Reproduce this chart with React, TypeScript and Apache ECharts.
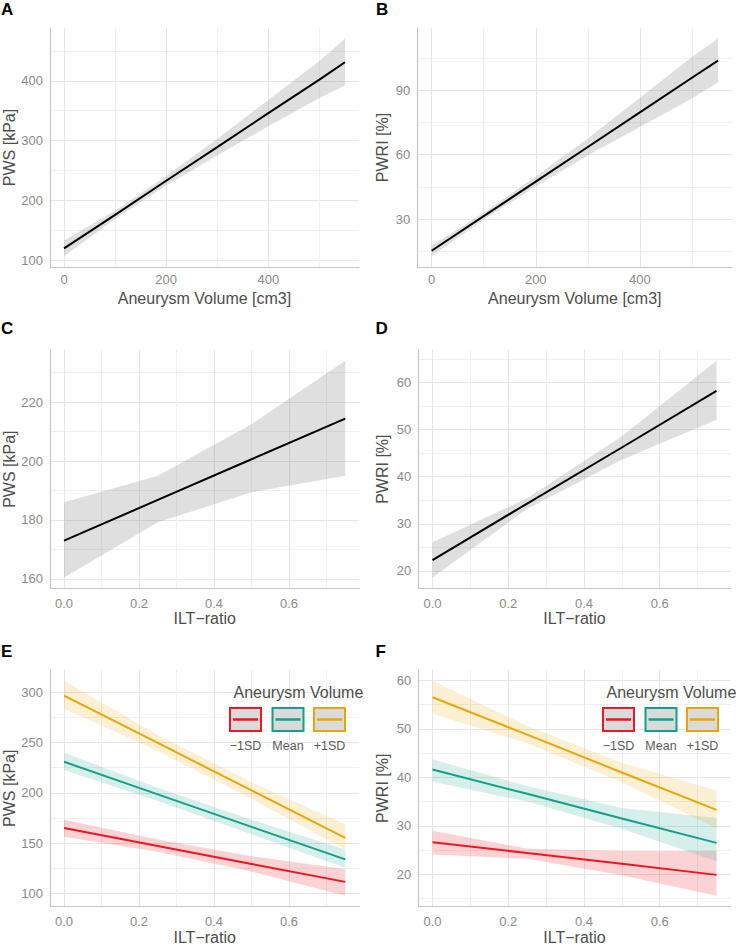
import React, { useEffect, useRef } from "react";
import * as echarts from "echarts";

// ---------- data ----------
const volumeX = [0, 100, 200, 300, 400, 500, 550];
const pwsVolFit = [120, 176, 233, 289, 346, 402, 431];
const pwsVolUpper = [133, 183, 241, 303, 368, 433, 470];
const pwsVolLower = [107, 169, 225, 275, 324, 371, 392];

const pwriVolFit = [15.3, 31.4, 47.5, 63.6, 79.7, 95.8, 103.8];
const pwriVolUpper = [17.8, 33.0, 49.8, 67.5, 86.5, 105.5, 113.9];
const pwriVolLower = [12.8, 29.8, 45.2, 59.7, 72.9, 86.1, 93.7];

const iltX = [0, 0.25, 0.5, 0.75];
const pwsIltFit = [173.0, 186.8, 200.6, 214.4];
const pwsIltUpper = [186.0, 195.0, 212.5, 234.0];
const pwsIltLower = [160.5, 179.2, 189.4, 195.0];

const pwriIltFit = [22.3, 34.3, 46.2, 58.2];
const pwriIltUpper = [26.1, 35.4, 48.6, 64.6];
const pwriIltLower = [18.6, 33.2, 43.6, 52.1];

const groupNames = ["\u22121SD", "Mean", "+1SD"];
const groupColors = ["#F0151F", "#13A08A", "#E9A602"];
const groupFills = ["rgba(240,21,31,0.19)", "rgba(19,160,138,0.17)", "rgba(233,166,2,0.17)"];

// E: PWS by ILT-ratio at three aneurysm volumes (-1SD, Mean, +1SD)
const pwsIntFit = [
  [165.1, 147.2, 129.3, 111.5],
  [230.8, 198.4, 166.1, 133.8],
  [296.6, 249.5, 202.4, 155.3],
];
const pwsIntUpper = [
  [173.3, 153.6, 137.0, 124.0],
  [239.7, 205.0, 173.3, 143.7],
  [311.3, 257.5, 210.5, 168.4],
];
const pwsIntLower = [
  [156.2, 141.5, 121.8, 97.7],
  [222.6, 191.8, 158.8, 125.6],
  [283.4, 241.5, 194.0, 143.7],
];

// F: PWRI by ILT-ratio at three aneurysm volumes
const pwriIntFit = [
  [26.6, 24.4, 22.2, 19.9],
  [41.6, 36.6, 31.5, 26.5],
  [56.5, 48.8, 41.0, 33.3],
];
const pwriIntUpper = [
  [29.0, 25.3, 24.8, 24.8],
  [43.7, 38.2, 33.7, 31.6],
  [59.9, 50.6, 43.0, 37.3],
];
const pwriIntLower = [
  [24.1, 23.2, 19.8, 15.6],
  [39.1, 35.0, 29.4, 22.7],
  [53.1, 47.0, 39.0, 29.5],
];

const panelLetters = ["A", "B", "C", "D", "E", "F"];
const xTitles = ["Aneurysm Volume [cm3]", "Aneurysm Volume [cm3]", "ILT\u2212ratio", "ILT\u2212ratio", "ILT\u2212ratio", "ILT\u2212ratio"];
const yTitles = ["PWS [kPa]", "PWRI [%]", "PWS [kPa]", "PWRI [%]", "PWS [kPa]", "PWRI [%]"];
const xIntervals = [200, 200, 0.2, 0.2, 0.2, 0.2];
const yIntervals = [100, 30, 20, 10, 50, 10];
const legendTitle = "Aneurysm Volume";

// ---------- helpers ----------
const FONT = "'Liberation Sans', Arial, Helvetica, sans-serif";

function expanded(arrs: number[][]): [number, number] {
  let lo = Infinity, hi = -Infinity;
  arrs.forEach((a) => a.forEach((v) => { lo = Math.min(lo, v); hi = Math.max(hi, v); }));
  const pad = (hi - lo) * 0.05;
  return [lo - pad, hi + pad];
}

function zip(xs: number[], ys: number[]) {
  return xs.map((x, i) => [x, ys[i]]);
}

function ribbon(gi: number, xs: number[], lo: number[], hi: number[], fill: string) {
  return {
    type: "custom",
    xAxisIndex: gi,
    yAxisIndex: gi,
    silent: true,
    clip: false,
    z: 1,
    data: [[xs[0], lo[0]]],
    renderItem: (_p: any, api: any) => {
      const pts: number[][] = [];
      for (let i = 0; i < xs.length; i++) pts.push(api.coord([xs[i], hi[i]]));
      for (let i = xs.length - 1; i >= 0; i--) pts.push(api.coord([xs[i], lo[i]]));
      return { type: "polygon", shape: { points: pts }, style: { fill } };
    },
  };
}

function fitLine(gi: number, xs: number[], ys: number[], color: string) {
  return {
    type: "line",
    xAxisIndex: gi,
    yAxisIndex: gi,
    data: zip(xs, ys),
    showSymbol: false,
    silent: true,
    z: 3,
    lineStyle: { color, width: 2 },
  };
}

function legendGraphic(ox: number) {
  const els: any[] = [];
  els.push({
    type: "text", x: ox + 4.5, y: 692, z: 100,
    style: { text: legendTitle, font: `16px ${FONT}`, fill: "#4d4d4d", textAlign: "left", textVerticalAlign: "middle" },
  });
  const offs = [0, 42.5, 84];
  offs.forEach((o, i) => {
    const bx = ox + o;
    els.push({
      type: "rect", z: 100, shape: { x: bx + 1, y: 708, width: 31, height: 23 },
      style: { fill: "#dadada", stroke: groupColors[i], lineWidth: 2 },
    });
    els.push({
      type: "line", z: 101, shape: { x1: bx + 4, y1: 719.5, x2: bx + 29, y2: 719.5 },
      style: { stroke: groupColors[i], lineWidth: 2.5 },
    });
    els.push({
      type: "text", x: bx + 16.5, y: 746, z: 100,
      style: { text: groupNames[i], font: `12.5px ${FONT}`, fill: "#5a5a5a", textAlign: "center", textVerticalAlign: "middle" },
    });
  });
  return els;
}

// ---------- component ----------
export default function App() {
  const ref = useRef<HTMLDivElement>(null);

  useEffect(() => {
    if (!ref.current) return;
    const chart = echarts.init(ref.current, undefined, { renderer: "svg" });

    const grids = [
      { left: 49, top: 28, width: 310, height: 239 },
      { left: 417.3, top: 28, width: 315, height: 239 },
      { left: 49.3, top: 350, width: 310, height: 238.3 },
      { left: 418.3, top: 350, width: 312.4, height: 238.3 },
      { left: 49.3, top: 670, width: 310, height: 239.3 },
      { left: 418.3, top: 670, width: 312.4, height: 239.3 },
    ];

    const xRanges = [
      expanded([volumeX]), expanded([volumeX]),
      expanded([iltX]), expanded([iltX]), expanded([iltX]), expanded([iltX]),
    ];
    const yRanges = [
      expanded([pwsVolUpper, pwsVolLower, pwsVolFit]),
      expanded([pwriVolUpper, pwriVolLower, pwriVolFit]),
      expanded([pwsIltUpper, pwsIltLower, pwsIltFit]),
      expanded([pwriIltUpper, pwriIltLower, pwriIltFit]),
      expanded([...pwsIntUpper, ...pwsIntLower]),
      expanded([...pwriIntUpper, ...pwriIntLower]),
    ];
    const yNameGaps = [33, 27, 33, 28, 33, 28];
    const xLabelMargins = [6, 6, 8.5, 8.5, 8.5, 8.5];
    const xNameGaps = [23, 23, 22, 22, 22.5, 22.5];

    const common = (interval: number) => ({
      minInterval: interval,
      maxInterval: interval,
      axisTick: { show: false },
      axisLine: { show: true, onZero: false, lineStyle: { color: "#c6c6c6", width: 1.2 } },
      splitLine: { show: true, showMinLine: false, showMaxLine: false, lineStyle: { color: "#e6e6e6", width: 1 } },
      minorTick: { show: false, splitNumber: 2 },
      minorSplitLine: { show: true, lineStyle: { color: "#f0f0f0", width: 1 } },
      nameTextStyle: { color: "#4d4d4d", fontSize: 16, fontFamily: FONT },
    });

    const xAxis = grids.map((_, i) => ({
      type: "value",
      gridIndex: i,
      min: xRanges[i][0],
      max: xRanges[i][1],
      ...common(xIntervals[i]),
      axisLabel: {
        color: "#8a8a8a", fontSize: 13, fontFamily: FONT, margin: xLabelMargins[i],
        showMinLabel: false, showMaxLabel: false,
        formatter: (v: number) => (xIntervals[i] < 1 ? v.toFixed(1) : String(Math.round(v))),
      },
      name: xTitles[i],
      nameLocation: "middle",
      nameGap: xNameGaps[i],
    }));

    const yAxis = grids.map((_, i) => ({
      type: "value",
      gridIndex: i,
      min: yRanges[i][0],
      max: yRanges[i][1],
      ...common(yIntervals[i]),
      axisLabel: {
        color: "#8a8a8a", fontSize: 13, fontFamily: FONT, margin: 7,
        showMinLabel: false, showMaxLabel: false,
        formatter: (v: number) => String(Math.round(v)),
      },
      name: yTitles[i],
      nameLocation: "middle",
      nameRotate: 90,
      nameGap: yNameGaps[i],
    }));

    const grey = "rgba(150,150,150,0.3)";
    const series: any[] = [
      ribbon(0, volumeX, pwsVolLower, pwsVolUpper, grey),
      fitLine(0, volumeX, pwsVolFit, "#000"),
      ribbon(1, volumeX, pwriVolLower, pwriVolUpper, grey),
      fitLine(1, volumeX, pwriVolFit, "#000"),
      ribbon(2, iltX, pwsIltLower, pwsIltUpper, grey),
      fitLine(2, iltX, pwsIltFit, "#000"),
      ribbon(3, iltX, pwriIltLower, pwriIltUpper, grey),
      fitLine(3, iltX, pwriIltFit, "#000"),
    ];
    [0, 1, 2].forEach((g) => series.push(ribbon(4, iltX, pwsIntLower[g], pwsIntUpper[g], groupFills[g])));
    [0, 1, 2].forEach((g) => series.push(fitLine(4, iltX, pwsIntFit[g], groupColors[g])));
    [0, 1, 2].forEach((g) => series.push(ribbon(5, iltX, pwriIntLower[g], pwriIntUpper[g], groupFills[g])));
    [0, 1, 2].forEach((g) => series.push(fitLine(5, iltX, pwriIntFit[g], groupColors[g])));

    const letterPos = [[1, 9], [376, 9], [1, 328.5], [375.5, 328.5], [1, 651.5], [375.5, 651.5]];
    const graphic: any[] = panelLetters.map((t, i) => ({
      type: "text", x: letterPos[i][0], y: letterPos[i][1], z: 100,
      style: { text: t, font: `bold 17px ${FONT}`, fill: "#000", textAlign: "left", textVerticalAlign: "middle" },
    }));
    graphic.push(...legendGraphic(229), ...legendGraphic(602));

    chart.setOption({
      animation: false,
      backgroundColor: "#ffffff",
      textStyle: { fontFamily: FONT },
      grid: grids.map((g) => ({ ...g, containLabel: false })),
      xAxis,
      yAxis,
      series,
      graphic,
    });

    return () => chart.dispose();
  }, []);

  return (
    <div
      ref={ref}
      style={{ position: "absolute", left: 0, top: 0, width: 739, height: 946, background: "#fff" }}
    />
  );
}
